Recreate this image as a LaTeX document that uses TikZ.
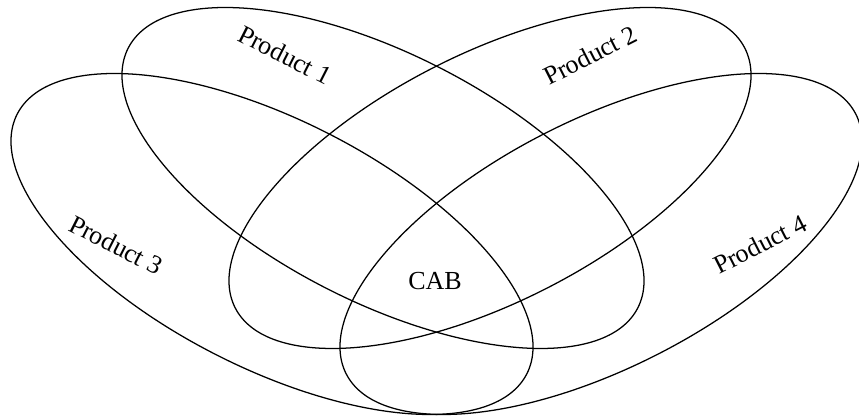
\documentclass[tikz,border=0pt]{standalone}
\usepackage{fontspec}
\setmainfont{Liberation Serif}
\usetikzlibrary{positioning}

\begin{document}
\begin{tikzpicture}[
  set/.style={line width=0.9pt},
  lbl/.style={font=\fontsize{18.5}{22}\selectfont, inner sep=0pt}
]
\useasboundingbox (0,0) rectangle (21.475,10.4);

% --- centres of the four sets ---
\coordinate (c1) at (9.575,5.95);
\coordinate (c2) at (12.25,5.95);
\coordinate (c3) at (6.8,4.3);
\coordinate (c4) at (15.025,4.3);

% --- the sets themselves ---
\draw[set] (c1) ellipse [x radius=7.15, y radius=3.1, rotate=-27];
\draw[set] (c2) ellipse [x radius=7.15, y radius=3.1, rotate=27];
\draw[set] (c3) ellipse [x radius=7.15, y radius=3.1, rotate=-27];
\draw[set] (c4) ellipse [x radius=7.15, y radius=3.1, rotate=27];

% --- labels ---
\node[lbl, rotate=-27] (p1) at (7.125,9.025) {Product 1};
\node[lbl, rotate=27]  (p2) at (14.75,9.025) {Product 2};
\node[lbl, rotate=-27] (p3) at (2.9,4.275) {Product 3};
\node[lbl, rotate=27]  (p4) at (19.0,4.3) {Product 4};

% common part
\node[lbl] (cab) at (10.875,3.375) {CAB};

\end{tikzpicture}
\end{document}
